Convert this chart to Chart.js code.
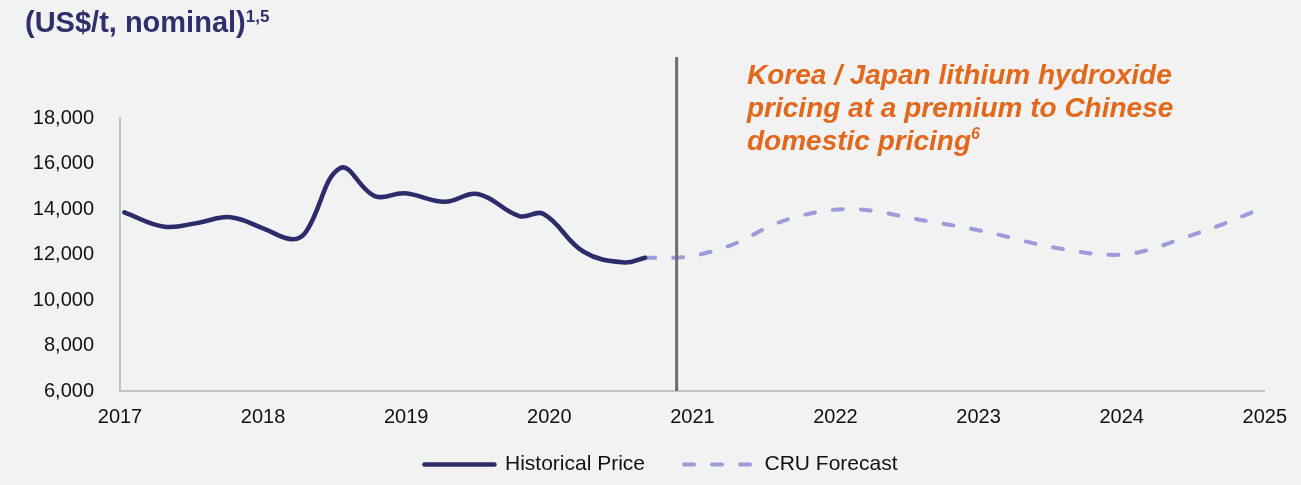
<!DOCTYPE html>
<html lang="en">
<head>
    <meta charset="UTF-8">
    <title>Korea / Japan lithium hydroxide price</title>
    <script src="https://cdn.jsdelivr.net/npm/chart.js"></script>
    <style>
        html, body {
            margin: 0;
            padding: 0;
            background-color: #f2f2f2;
            font-family: "Liberation Sans", Arial, sans-serif;
        }
        .wrap {
            position: relative;
            width: 1301px;
            height: 485px;
        }
        .unit-title {
            position: absolute;
            left: 25px;
            top: 8px;
            font-size: 29px;
            line-height: 29px;
            font-weight: bold;
            color: #2e2f6b;
            white-space: nowrap;
        }
        .unit-title sup {
            font-size: 17px;
            vertical-align: 10px;
            line-height: 0;
        }
        .note {
            position: absolute;
            left: 747px;
            top: 58px;
            font-size: 28px;
            line-height: 33px;
            font-weight: bold;
            font-style: italic;
            color: #e2681c;
            white-space: nowrap;
        }
        .note sup {
            font-size: 16px;
            vertical-align: 11px;
            line-height: 0;
        }
        canvas {
            position: absolute;
            left: 0;
            top: 0;
        }
    </style>
</head>
<body>
<div class="wrap">
    <canvas id="priceChart" width="1301" height="485"></canvas>
    <div class="unit-title">(US$/t, nominal)<sup>1,5</sup></div>
    <div class="note">Korea / Japan lithium hydroxide<br>pricing at a premium to Chinese<br>domestic pricing<sup>6</sup></div>
</div>

<script>
    // historical price, x = year (fractional), y = US$/t
    const histYears  = [2017.03, 2017.31, 2017.55, 2017.77, 2018.0, 2018.2, 2018.3, 2018.54, 2018.78, 2018.99, 2019.27, 2019.5, 2019.79, 2019.96, 2020.24, 2020.52, 2020.67];
    const histPrices = [13850, 13220, 13400, 13640, 13150, 12670, 13000, 15800, 14570, 14690, 14320, 14660, 13690, 13780, 12120, 11650, 11860];

    // CRU forecast
    const fcYears  = [2020.67, 2020.87, 2021.24, 2021.64, 2022.1, 2022.6, 2023.05, 2023.5, 2023.95, 2024.56, 2024.93];
    const fcPrices = [11860, 11860, 12340, 13490, 14000, 13520, 13000, 12340, 11980, 13000, 13900];

    const xTicks = [2017, 2018, 2019, 2020, 2021, 2022, 2023, 2024, 2025];
    const yMin = 6000, yMax = 18000, yStep = 2000;
    const dividerYear = 2020.89;

    const toPoints = (xs, ys) => xs.map((x, i) => ({ x: x, y: ys[i] }));

    // vertical divider between history and forecast
    const dividerLine = {
        id: 'dividerLine',
        afterDatasetsDraw(chart) {
            const ctx = chart.ctx;
            const x = chart.scales.x.getPixelForValue(dividerYear);
            ctx.save();
            ctx.strokeStyle = '#6b6c6e';
            ctx.lineWidth = 3;
            ctx.beginPath();
            ctx.moveTo(x, chart.chartArea.top - 61);
            ctx.lineTo(x, chart.chartArea.bottom);
            ctx.stroke();
            ctx.restore();
        }
    };

    // wide gap between legend items without a tall legend box
    const legendFit = {
        id: 'legendFit',
        beforeLayout(chart) {
            const lg = chart.legend;
            if (lg && !lg._fitPatched) {
                const fit = lg.fit.bind(lg);
                lg.fit = function () { fit(); this.height = 37; };
                lg._fitPatched = true;
            }
        },
        afterLayout(chart) {
            const lg = chart.legend;
            if (lg) {
                lg.left += 26; lg.right += 26;
                lg.top -= 31;
                lg.height = lg.bottom - lg.top;
            }
        }
    };

    const tickFont = { family: '"Liberation Sans", Arial, sans-serif', size: 20 };
    const legendFont = { family: '"Liberation Sans", Arial, sans-serif', size: 21 };

    new Chart(document.getElementById('priceChart').getContext('2d'), {
        type: 'line',
        data: {
            datasets: [{
                label: 'Historical Price',
                data: toPoints(histYears, histPrices),
                borderColor: '#2b2c69',
                backgroundColor: '#2b2c69',
                borderWidth: 4.5,
                pointRadius: 0,
                tension: 0.4,
                borderCapStyle: 'round'
            }, {
                label: 'CRU Forecast',
                data: toPoints(fcYears, fcPrices),
                borderColor: '#9d9bd9',
                backgroundColor: '#9d9bd9',
                borderWidth: 4,
                borderDash: [10, 18],
                borderCapStyle: 'round',
                pointRadius: 0,
                cubicInterpolationMode: 'monotone'
            }]
        },
        options: {
            responsive: false,
            animation: false,
            layout: {
                padding: { top: 118, right: 31, left: 0, bottom: 2 }
            },
            scales: {
                x: {
                    type: 'linear',
                    min: 2017,
                    max: 2025,
                    afterBuildTicks: scale => { scale.ticks = xTicks.map(v => ({ value: v })); },
                    afterFit: scale => { scale.height = 55; },
                    grid: { display: false, drawTicks: false },
                    border: { display: true, color: '#c3c3c3', width: 2 },
                    ticks: {
                        color: '#111',
                        font: tickFont,
                        padding: 14,
                        maxRotation: 0,
                        callback: v => String(v)
                    }
                },
                y: {
                    min: yMin,
                    max: yMax,
                    afterFit: scale => { scale.width = 120; },
                    grid: { display: false, drawTicks: false },
                    border: { display: true, color: '#c3c3c3', width: 2 },
                    ticks: {
                        stepSize: yStep,
                        color: '#111',
                        font: tickFont,
                        padding: 26,
                        callback: v => v.toLocaleString('en-US')
                    }
                }
            },
            plugins: {
                legend: {
                    position: 'bottom',
                    labels: {
                        usePointStyle: true,
                        pointStyle: 'line',
                        pointStyleWidth: 70,
                        color: '#111',
                        font: legendFont,
                        padding: 39,
                        generateLabels: chart =>
                            Chart.defaults.plugins.legend.labels.generateLabels(chart).map((item, i) => {
                                const ds = chart.data.datasets[i];
                                return Object.assign(item, {
                                    lineDash: ds.borderDash || [],
                                    lineCap: ds.borderCapStyle,
                                    lineWidth: ds.borderWidth,
                                    strokeStyle: ds.borderColor
                                });
                            })
                    }
                },
                tooltip: { enabled: false }
            }
        },
        plugins: [dividerLine, legendFit]
    });
</script>
</body>
</html>
